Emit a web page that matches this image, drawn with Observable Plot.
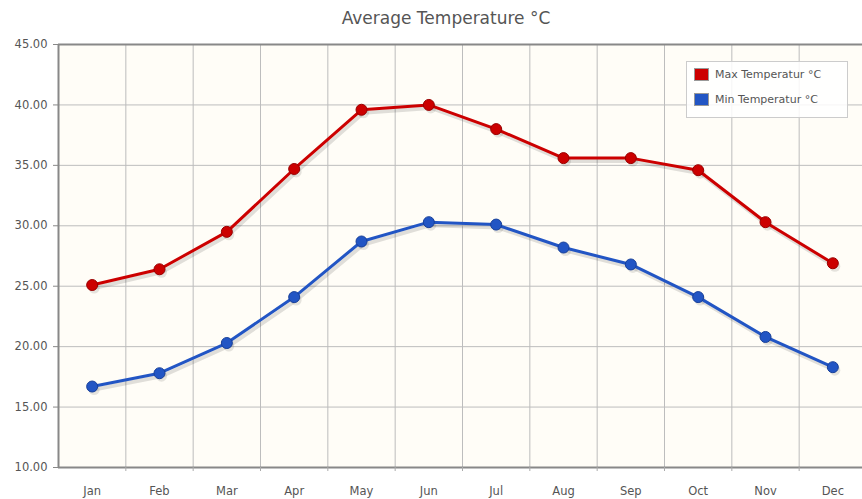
<!DOCTYPE html>
<html>
<head>
<meta charset="utf-8">
<script src="https://cdn.jsdelivr.net/npm/d3@7"></script>
<script src="https://cdn.jsdelivr.net/npm/@observablehq/plot@0.6"></script>
<style>
  html, body { margin: 0; padding: 0; background: #fff; overflow: hidden; width: 862px; height: 499px; }
  #wrap { position: relative; width: 866px; }
  #title { height: 34px; line-height: 36px; text-align: center; font-family: "DejaVu Sans", sans-serif; font-size: 17px; color: #555; padding-left: 26px; }
  #legend { position: absolute; left: 686px; top: 61px; width: 160px; height: 55px; border: 1px solid #ccc; background: rgba(255,255,255,0.85); font-family: "DejaVu Sans", sans-serif; font-size: 11px; color: #555; }
  .item { position: absolute; left: 7px; display: flex; align-items: center; }
  .sw { width: 15px; height: 13px; border: 1px solid #999; margin-right: 6px; box-sizing: border-box; }
  svg { display: block; }
</style>
</head>
<body>
<div id="wrap">
  <div id="title">Average Temperature °C</div>
  <div id="chart"></div>
  <div id="legend">
    <div class="item" style="top:6px"><div class="sw" style="background:#cc0000"></div><span>Max Temperatur °C</span></div>
    <div class="item" style="top:31px"><div class="sw" style="background:#2255c4"></div><span>Min Temperatur °C</span></div>
  </div>
</div>
<script>
const months = ["Jan","Feb","Mar","Apr","May","Jun","Jul","Aug","Sep","Oct","Nov","Dec"];
const maxTemp = [25.1, 26.4, 29.5, 34.7, 39.6, 40.0, 38.0, 35.6, 35.6, 34.6, 30.3, 26.9];
const minTemp = [16.7, 17.8, 20.3, 24.1, 28.7, 30.3, 30.1, 28.2, 26.8, 24.1, 20.8, 18.3];
const yTicks = [10, 15, 20, 25, 30, 35, 40, 45];
const seriesNames = ["Max Temperatur °C", "Min Temperatur °C"];
const seriesColors = ["#cc0000", "#2255c4"];
const seriesStroke = ["#990000", "#173f99"];

const rows = [];
months.forEach((m, i) => {
  rows.push({i, month: m, value: maxTemp[i], series: seriesNames[0]});
  rows.push({i, month: m, value: minTemp[i], series: seriesNames[1]});
});
const idx = months.map((m, i) => i);
const edges = months.slice(0, -1).map((m, i) => i + 0.5);

const chart = Plot.plot({
  width: 866,
  height: 465,
  marginTop: 10,
  marginBottom: 32,
  marginLeft: 58,
  marginRight: 0,
  style: {fontFamily: "DejaVu Sans, sans-serif", fontSize: "11.5px", color: "#555", background: "transparent"},
  x: {type: "linear", domain: [-0.5, 11.5], axis: null},
  y: {domain: [10, 45], axis: null},
  color: {domain: seriesNames, range: seriesColors},
  marks: [
    Plot.frame({fill: "#fffdf7", stroke: null}),
    Plot.ruleY(yTicks.slice(1, -1), {stroke: "#bdbdbd", strokeWidth: 1}),
    Plot.ruleX(edges, {stroke: "#bdbdbd", strokeWidth: 1}),
    Plot.ruleY([45], {stroke: "#888", strokeWidth: 2}),
    Plot.ruleY([10], {stroke: "#888", strokeWidth: 2}),
    Plot.ruleX([-0.5], {stroke: "#888", strokeWidth: 2}),
    Plot.axisY(yTicks, {label: null, tickSize: 5, tickPadding: 6, stroke: "#888", tickFormat: d => d.toFixed(2), fill: "#555", fontSize: 11.5}),
    Plot.axisX(idx, {label: null, tickSize: 0, tickPadding: 19, tickFormat: i => months[i], fill: "#555", fontSize: 11.5}),
    Plot.axisX(edges, {label: null, tickSize: 4, tickFormat: () => "", stroke: "#aaa"}),
    Plot.line(rows, {x: "i", y: "value", z: "series", stroke: "#000", strokeOpacity: 0.12, strokeWidth: 4, dx: 2, dy: 3}),
    Plot.dot(rows, {x: "i", y: "value", r: 5.5, fill: "#000", fillOpacity: 0.1, dx: 2, dy: 3}),
    Plot.line(rows, {x: "i", y: "value", z: "series", stroke: "series", strokeWidth: 3}),
    Plot.dot(rows, {x: "i", y: "value", fill: "series", r: 5.5, stroke: d => d.series === seriesNames[0] ? seriesStroke[0] : seriesStroke[1], strokeWidth: 1})
  ]
});
document.getElementById("chart").appendChild(chart);
</script>
</body>
</html>
